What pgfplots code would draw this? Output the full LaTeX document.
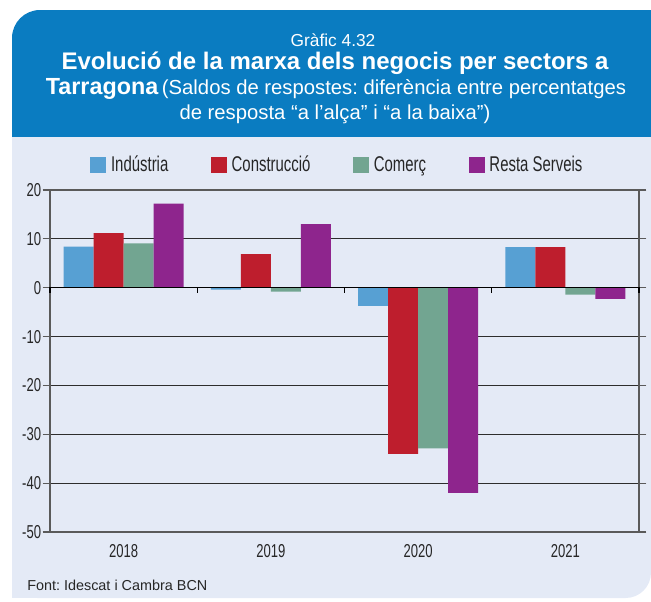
\documentclass[border=0pt]{standalone}
\usepackage{fontspec}
\setmainfont{Liberation Sans}
\newfontfamily\cond[FakeStretch=0.7]{Liberation Sans}
\usepackage{pgfplots}
\pgfplotsset{compat=1.18}
\frenchspacing

\definecolor{hdr}{RGB}{10,124,193}
\definecolor{panel}{RGB}{228,234,246}
\definecolor{cInd}{RGB}{87,160,211}
\definecolor{cCon}{RGB}{190,30,45}
\definecolor{cCom}{RGB}{114,165,145}
\definecolor{cRes}{RGB}{142,37,141}
\definecolor{gridc}{RGB}{45,45,45}
\definecolor{framec}{RGB}{90,90,90}

\begin{document}
\begin{tikzpicture}
  % background boxes, in px (1px = 0.75pt), y downwards
  \begin{scope}[x=0.75pt, y=-0.75pt]
    \path (0,0) rectangle (651,601);
    \fill[hdr, rounded corners=21pt] (12,10) rectangle (651,137);
    \fill[hdr] (200,10) rectangle (651,137);
    \fill[hdr] (12,80) rectangle (651,137);
    \fill[panel, rounded corners=19pt] (12,137) rectangle (651,598);
    \fill[panel] (12,137) rectangle (400,598);
    \fill[panel] (12,137) rectangle (651,400);

    \node[text=white, font=\fontsize{13}{15}\selectfont] at (333,40) {Gràfic 4.32};
    \node[text=white, font=\bfseries\fontsize{18}{20}\selectfont] at (335,63) {Evolució de la marxa dels negocis per sectors a};
    \node[text=white, inner sep=0pt] at (336,89)
      {{\bfseries\fontsize{17.5}{20}\selectfont Tarragona} {\fontsize{15.2}{17}\selectfont(Saldos de respostes: diferència entre percentatges}};
    \node[text=white, font=\fontsize{15.2}{17}\selectfont] at (335,114) {de resposta “a l’alça” i “a la baixa”)};

    \node[anchor=west, inner sep=0pt, font=\fontsize{10.8}{13}\selectfont, text=black!85] at (27,585) {Font: Idescat i Cambra BCN};
  \end{scope}

  \begin{axis}[
      at={(37.5pt,-399pt)}, anchor=south west,
      scale only axis,
      width=441.75pt, height=256.5pt,
      ybar=0pt, bar width=22.5pt,
      xmin=-0.5, xmax=3.5,
      ymin=-50, ymax=20,
      ytick={-50,-40,-30,-20,-10,0,10,20},
      xtick={0,1,2,3},
      xticklabels={2018,2019,2020,2021},
      x tick style={draw=none},
      y tick style={draw=framec, line width=0.8pt},
      tick align=outside,
      major tick length=5.5pt,
      axis line style={draw=framec, line width=1pt},
      ymajorgrids,
      grid style={draw=gridc, line width=0.8pt},
      /pgf/number format/assume math mode=true,
      ticklabel style={font=\cond\fontsize{14}{16}\selectfont, text=black!85},
      yticklabel style={inner sep=1pt},
      xticklabel style={yshift=0pt},
      legend columns=4,
      legend style={draw=none, fill=none, at={(0.488,1.073)}, anchor=center,
        font=\cond\fontsize{16}{18}\selectfont, text=black!85,
        /tikz/every even column/.append style={column sep=30.5pt},
        /tikz/every odd column/.append style={column sep=2pt},
        nodes={inner sep=1.5pt}},
      legend image code/.code={\fill[#1] (0pt,-6pt) rectangle (12pt,6pt);},
      clip=false,
    ]

    % Indústria
    \addplot[fill=cInd, draw=none] coordinates {(0,8.4) (1,-0.4) (2,-3.7) (3,8.3)};
    % Construcció
    \addplot[fill=cCon, draw=none] coordinates {(0,11.2) (1,6.9) (2,-34.0) (3,8.3)};
    % Comerç
    \addplot[fill=cCom, draw=none] coordinates {(0,9.1) (1,-0.8) (2,-32.9) (3,-1.4)};
    % Resta Serveis
    \addplot[fill=cRes, draw=none] coordinates {(0,17.2) (1,13.0) (2,-42.0) (3,-2.3)};

    \legend{Indústria, Construcció, Comerç, Resta Serveis}

    % zero line with group-boundary ticks
    \draw[black, line width=1.1pt] (axis cs:-0.5,0) -- (axis cs:3.5,0);
    \pgfplotsinvokeforeach{-0.5,0.5,1.5,2.5,3.5}{
      \draw[black, line width=0.8pt] (axis cs:#1,0) ++(0pt,0.5pt) -- ++(0pt,-4.5pt);
    }
  \end{axis}
\end{tikzpicture}
\end{document}
